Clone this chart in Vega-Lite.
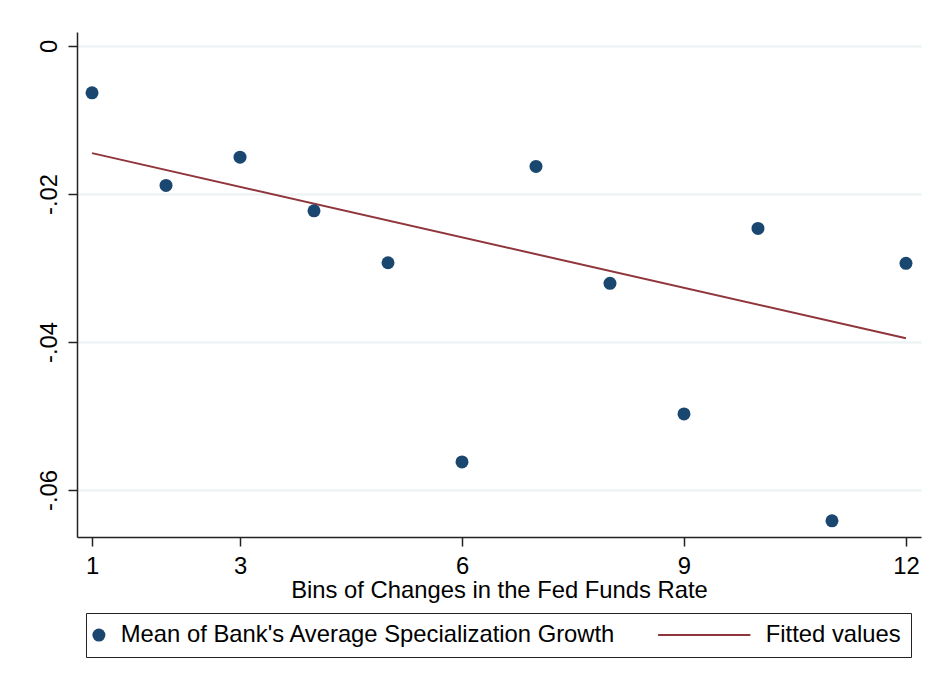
{
  "$schema": "https://vega.github.io/schema/vega-lite/v6.json",
  "width": 844,
  "height": 505,
  "autosize": {"type": "none"},
  "padding": {"left": 77, "top": 32, "right": 12, "bottom": 149},
  "background": "white",
  "config": {
    "view": {"stroke": null},
    "font": "Liberation Sans",
    "axis": {"labelFont": "Liberation Sans", "titleFont": "Liberation Sans", "labelColor": "black", "titleColor": "black", "domainColor": "#222222", "tickColor": "#222222", "domainWidth": 1.5, "tickWidth": 1.5},
    "legend": {"labelFont": "Liberation Sans", "labelColor": "black"}
  },
  "datasets": {
    "pts": [
      {"bin": 1, "value": -0.00633, "series": "Mean of Bank's Average Specialization Growth"},
      {"bin": 2, "value": -0.01884, "series": "Mean of Bank's Average Specialization Growth"},
      {"bin": 3, "value": -0.01502, "series": "Mean of Bank's Average Specialization Growth"},
      {"bin": 4, "value": -0.02227, "series": "Mean of Bank's Average Specialization Growth"},
      {"bin": 5, "value": -0.02929, "series": "Mean of Bank's Average Specialization Growth"},
      {"bin": 6, "value": -0.05620, "series": "Mean of Bank's Average Specialization Growth"},
      {"bin": 7, "value": -0.01627, "series": "Mean of Bank's Average Specialization Growth"},
      {"bin": 8, "value": -0.03207, "series": "Mean of Bank's Average Specialization Growth"},
      {"bin": 9, "value": -0.04972, "series": "Mean of Bank's Average Specialization Growth"},
      {"bin": 10, "value": -0.02465, "series": "Mean of Bank's Average Specialization Growth"},
      {"bin": 11, "value": -0.06417, "series": "Mean of Bank's Average Specialization Growth"},
      {"bin": 12, "value": -0.02937, "series": "Mean of Bank's Average Specialization Growth"}
    ],
    "fit": [
      {"bin": 1, "value": -0.01448, "series": "Fitted values"},
      {"bin": 12, "value": -0.03950, "series": "Fitted values"}
    ]
  },
  "encoding": {
    "x": {
      "field": "bin", "type": "quantitative",
      "scale": {"domain": [0.797, 12.203], "nice": false, "zero": false},
      "axis": {"values": [1, 3, 6, 9, 12], "grid": false, "title": "Bins of Changes in the Fed Funds Rate", "labelFontSize": 23.8, "titleFontSize": 23.8, "titleFontWeight": "normal", "tickSize": 9, "labelPadding": 8, "titlePadding": 1}
    },
    "y": {
      "field": "value", "type": "quantitative",
      "scale": {"domain": [-0.06635, 0.00189], "nice": false, "zero": false},
      "axis": {"values": [0, -0.02, -0.04, -0.06], "grid": true, "gridColor": "#eaf2f3", "gridWidth": 2, "title": null, "labelFontSize": 23.8, "labelAngle": -90, "labelAlign": "center", "labelBaseline": "bottom", "tickSize": 9, "labelPadding": 7,
        "labelExpr": "datum.value == 0 ? '0' : '-.0' + abs(round(datum.value * 100))"}
    },
    "color": {
      "field": "series", "type": "nominal",
      "scale": {"domain": ["Mean of Bank's Average Specialization Growth", "Fitted values"], "range": ["#1a476f", "#90353b"]},
      "legend": {
        "title": null, "orient": "none", "legendX": 9, "legendY": 581, "direction": "horizontal",
        "labelFontSize": 23.8, "symbolSize": 169, "symbolOffset": -9, "labelOffset": 10, "columnPadding": 38,
        "padding": 10, "strokeColor": "#222222", "labelLimit": 1000,
        "symbolStrokeWidth": 2,
        "encode": {
          "symbols": {"update": {
            "stroke": {"scale": "color", "field": "value"},
            "strokeWidth": {"signal": "datum.value === 'Fitted values' ? 2 : 0"},
            "opacity": {"value": 1}
          }}
        }
      }
    },
    "shape": {
      "field": "series", "type": "nominal",
      "scale": {"domain": ["Mean of Bank's Average Specialization Growth", "Fitted values"], "range": ["circle", "M-13.2,0L1,0"]},
      "legend": null
    }
  },
  "layer": [
    {
      "data": {"name": "fit"},
      "mark": {"type": "line", "strokeWidth": 2},
      "encoding": {"shape": null}
    },
    {
      "data": {"name": "pts"},
      "mark": {"type": "point", "filled": true, "size": 169, "opacity": 1}
    }
  ]
}
